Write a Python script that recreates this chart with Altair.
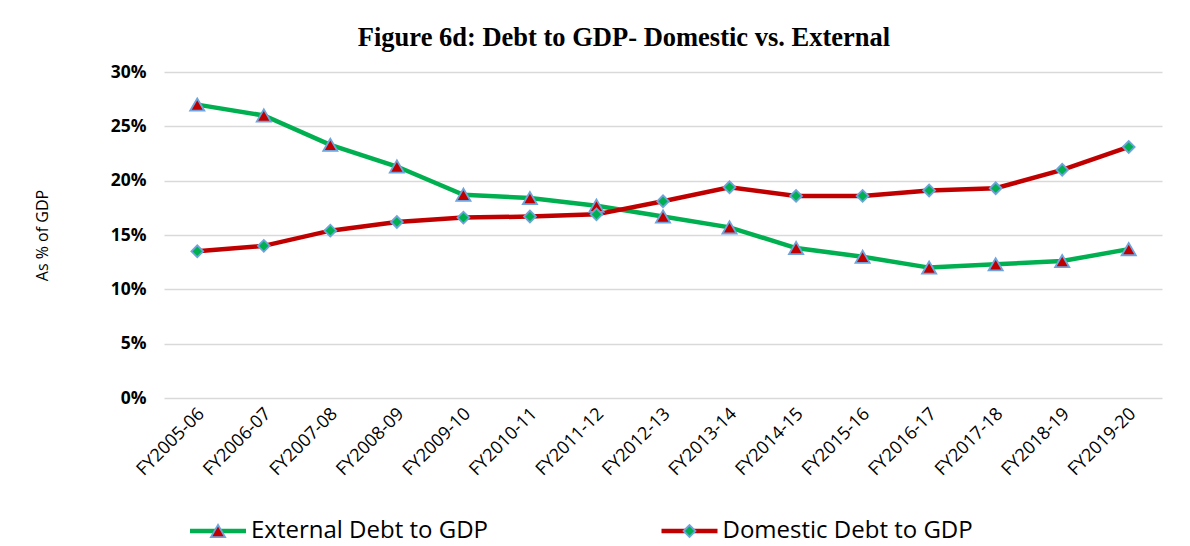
import altair as alt
import pandas as pd

years = ["FY2005-06", "FY2006-07", "FY2007-08", "FY2008-09", "FY2009-10",
         "FY2010-11", "FY2011-12", "FY2012-13", "FY2013-14", "FY2014-15",
         "FY2015-16", "FY2016-17", "FY2017-18", "FY2018-19", "FY2019-20"]
external = [27.0, 26.0, 23.3, 21.3, 18.7, 18.4, 17.7, 16.7, 15.7, 13.8,
            13.0, 12.0, 12.3, 12.6, 13.7]
domestic = [13.5, 14.0, 15.4, 16.2, 16.6, 16.7, 16.9, 18.1, 19.4, 18.6,
            18.6, 19.1, 19.3, 21.0, 23.1]
series_names = ["External Debt to GDP", "Domestic Debt to GDP"]
y_ticks = [0, 5, 10, 15, 20, 25, 30]

rows = []
for name, vals in zip(series_names, [external, domestic]):
    for y, v in zip(years, vals):
        rows.append({"year": y, "value": v, "series": name})
df = pd.DataFrame(rows)
leg_df = pd.DataFrame({"series": series_names})

FONT = "Open Sans"
LINE_RANGE = ["#00b050", "#c00000"]
MARK_RANGE = ["#c00000", "#00b050"]
MARK_EDGE = "#6fa3dc"

stroke_scale = alt.Scale(domain=series_names, range=LINE_RANGE)
fill_scale = alt.Scale(domain=series_names, range=MARK_RANGE)
shape_scale = alt.Scale(domain=series_names, range=["triangle-up", "diamond"])
size_scale = alt.Scale(domain=series_names, range=[200, 140])

x_enc = alt.X("year:N", sort=years, title=None,
              scale=alt.Scale(paddingOuter=0.5, paddingInner=0),
              axis=alt.Axis(labelAngle=-45, labelFontSize=18, labelFont=FONT,
                            labelColor="#000000", ticks=False, domain=False,
                            grid=False, labelPadding=13, labelOffset=4,
                            labelAlign="right", labelBaseline="middle"))
y_enc = alt.Y("value:Q", title="As % of GDP",
              scale=alt.Scale(domain=[0, 30], nice=False),
              axis=alt.Axis(values=y_ticks, labelExpr="datum.value + '%'",
                            labelFontSize=17.5, labelFontWeight="bold",
                            labelFont=FONT, labelColor="#000000",
                            titleFont=FONT, titleFontSize=16,
                            titleFontWeight="normal", titleColor="#000000",
                            titlePadding=60, labelPadding=18,
                            ticks=False, domain=False,
                            gridColor="#d9d9d9", gridWidth=1.5))

lines = alt.Chart(df).mark_line(strokeWidth=4.5).encode(
    x=x_enc, y=y_enc,
    stroke=alt.Stroke("series:N", sort=series_names, scale=stroke_scale,
                      legend=None),
)

points = alt.Chart(df).mark_point(filled=True, opacity=1, strokeWidth=1.8,
                                  stroke=MARK_EDGE).encode(
    x=x_enc, y=y_enc,
    fill=alt.Fill("series:N", sort=series_names, scale=fill_scale, legend=None),
    shape=alt.Shape("series:N", sort=series_names, scale=shape_scale,
                    legend=None),
    size=alt.Size("series:N", scale=size_scale, legend=None),
    strokeOpacity=alt.value(1),
)

main = alt.layer(lines, points).properties(
    width=998, height=326,
    title=alt.TitleParams(
        "Figure 6d: Debt to GDP- Domestic vs. External",
        font="Liberation Serif", fontSize=26.5, fontWeight="bold",
        color="#000000", anchor="middle", dx=-39, offset=12,
    ),
)

# Legend drawn as a small chart below, from the series list
leg_x = alt.X("series:N", sort=series_names, axis=None, title=None,
              scale=alt.Scale(domain=series_names, range=[54, 525.5],
                              padding=0))
leg_y = alt.value(16)

leg_line = alt.Chart(leg_df).mark_point(shape="stroke", size=3136,
                                        strokeWidth=4.5, opacity=1,
                                        filled=False).encode(
    x=leg_x, y=leg_y,
    stroke=alt.Stroke("series:N", scale=stroke_scale, legend=None),
)
leg_mark = alt.Chart(leg_df).mark_point(filled=True, opacity=1,
                                        strokeWidth=1.8,
                                        stroke=MARK_EDGE).encode(
    x=leg_x, y=leg_y,
    fill=alt.Fill("series:N", scale=fill_scale, legend=None),
    shape=alt.Shape("series:N", scale=shape_scale, legend=None),
    size=alt.Size("series:N", scale=size_scale, legend=None),
    strokeOpacity=alt.value(1),
)
leg_text = alt.Chart(leg_df).mark_text(align="left", baseline="middle",
                                       dx=33, fontSize=24, font=FONT,
                                       color="#000000").encode(
    x=leg_x, y=leg_y, text="series:N",
)
legend_chart = alt.layer(leg_line, leg_mark, leg_text).properties(
    width=998, height=32,
)

chart = alt.vconcat(main, legend_chart, spacing=36).properties(
    padding={"left": 26, "top": 16, "right": 10, "bottom": 0},
).configure_view(stroke=None).configure_concat(spacing=36)

chart.save("out.html", embed_options={"renderer": "svg", "actions": False})
